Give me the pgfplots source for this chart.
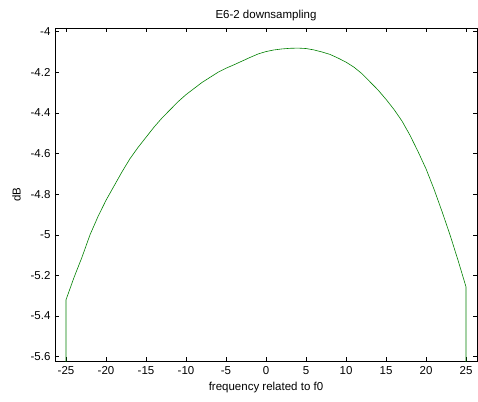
\documentclass[border=0pt]{standalone}
\usepackage{pgfplots}
\pgfplotsset{compat=1.18}
\usepackage{fontspec}
\setmainfont{Liberation Sans}
\definecolor{mgreen}{rgb}{0,0.5,0}
\begin{document}
\begin{tikzpicture}
\begin{axis}[
  at={(0,0)}, anchor=south west,
  scale only axis, width=422pt, height=333pt,
  xmin=-26.375, xmax=26.375, ymin=-5.621, ymax=-3.982,
  xtick={-25,-20,...,25},
  ytick={-5.6,-5.4,-5.2,-5,-4.8,-4.6,-4.4,-4.2,-4},
  yticklabels={-5.6,-5.4,-5.2,-5,-4.8,-4.6,-4.4,-4.2,-4},
  tick align=inside, tick pos=both,
  major tick length=4pt,
  axis line style={line width=0.8pt},
  tick style={black, line width=0.6pt},
  /pgf/number format/assume math mode=true,
  tick label style={font=\fontsize{11.5}{13}\selectfont},
  label style={font=\fontsize{11.5}{13}\selectfont},
  title style={font=\fontsize{11.5}{13}\selectfont, yshift=-2pt},
  title={E6-2 downsampling},
  xlabel={frequency related to f0},
  ylabel={dB},
  xticklabel style={yshift=-2pt},
  xlabel style={yshift=-1pt},
  ylabel style={yshift=3pt},
  yticklabel style={xshift=-1pt},
  clip=true,
]
\addplot[mgreen, line width=0.6pt] coordinates {
(-25,-5.75) (-25,-5.32) (-24,-5.21) (-23,-5.11) (-22,-5.00) (-21,-4.91)
(-20,-4.83) (-19,-4.76) (-18,-4.69) (-17,-4.625) (-16,-4.57) (-15,-4.52)
(-14,-4.47) (-13,-4.425) (-12,-4.385) (-11,-4.345) (-10,-4.31) (-9,-4.28)
(-8,-4.25) (-7,-4.225) (-6,-4.20) (-5,-4.18) (-4,-4.163) (-3,-4.145)
(-2,-4.127) (-1,-4.11) (0,-4.098) (1,-4.09) (2,-4.085) (3,-4.082)
(4,-4.081) (5,-4.083) (6,-4.09) (7,-4.10) (8,-4.112) (9,-4.13)
(10,-4.15) (11,-4.175) (12,-4.207) (13,-4.247) (14,-4.287) (15,-4.333)
(16,-4.383) (17,-4.44) (18,-4.51) (19,-4.59) (20,-4.675) (21,-4.775)
(22,-4.885) (23,-5.00) (24,-5.125) (25,-5.256) (25,-5.75)
};
\end{axis}
\pgfresetboundingbox
\path[use as bounding box] (-55pt,-40pt) rectangle (423pt,361pt);
\end{tikzpicture}
\end{document}
